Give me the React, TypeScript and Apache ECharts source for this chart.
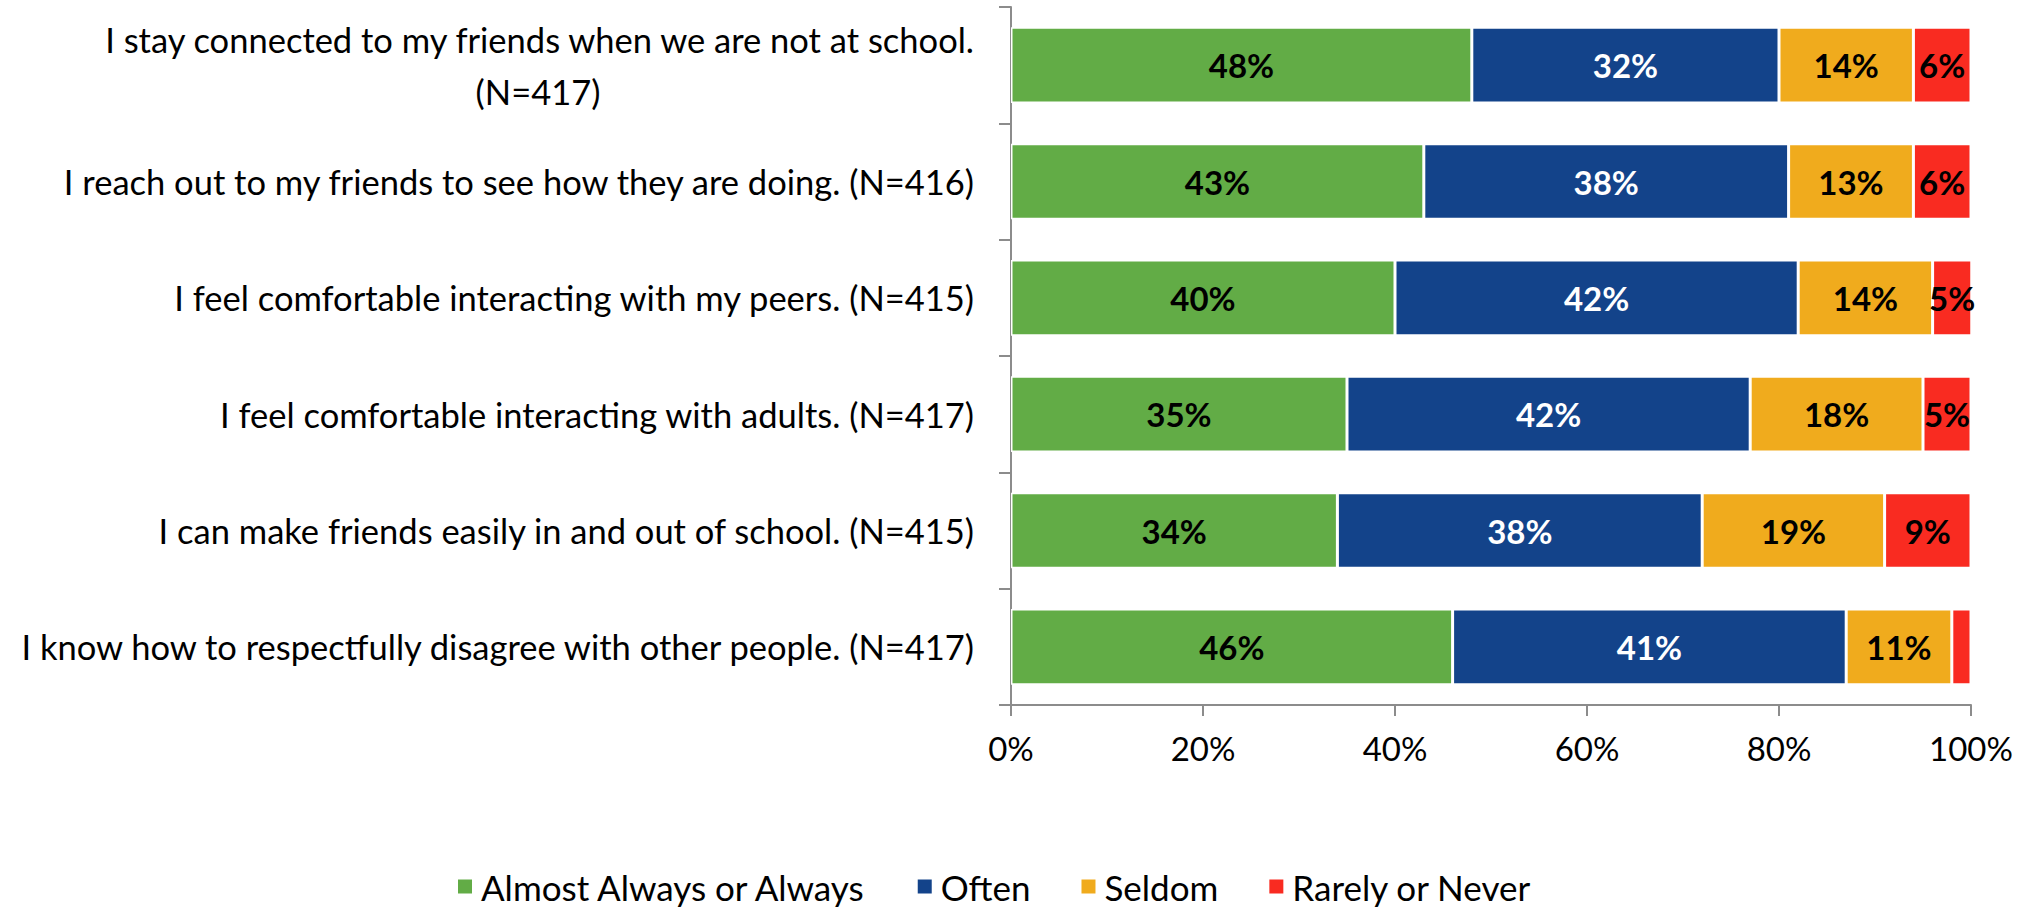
import React, { useEffect, useRef } from "react";
import * as echarts from "echarts";

const categories = [
  "I stay connected to my friends when we are not at school.\n(N=417)",
  "I reach out to my friends to see how they are doing. (N=416)",
  "I feel comfortable interacting with my peers. (N=415)",
  "I feel comfortable interacting with adults. (N=417)",
  "I can make friends easily in and out of school. (N=415)",
  "I know how to respectfully disagree with other people. (N=417)",
];

const seriesNames = ["Almost Always or Always", "Often", "Seldom", "Rarely or Never"];
const almostAlways = [48, 43, 40, 35, 34, 46];
const often = [32, 38, 42, 42, 38, 41];
const seldom = [14, 13, 14, 18, 19, 11];
const rarely = [6, 6, 5, 5, 9, 2];
const xTicks = [0, 20, 40, 60, 80, 100];

const colors = ["#62AC46", "#13438A", "#F0AB1D", "#F92B21"];
const labelColors = ["#000000", "#ffffff", "#000000", "#000000"];

const FONT = "Lato, 'Open Sans', sans-serif";
const FS_CAT = 34.5;
const FS_TICK = 33;
const FS_DATA = 33;
const FS_LEG = 35;

export default function App() {
  const ref = useRef<HTMLDivElement>(null);
  useEffect(() => {
    if (!ref.current) return;
    const chart = echarts.init(ref.current, null, { renderer: "svg" });
    const canvas = document.createElement("canvas");
    const ctx = canvas.getContext("2d")!;
    ctx.font = `${FS_CAT}px ${FONT}`;
    const firstLineWidth = Math.ceil(ctx.measureText(categories[0].split("\n")[0]).width);

    const values = [almostAlways, often, seldom, rarely];
    const series = values.map((arr, i) => ({
      name: seriesNames[i],
      type: "bar",
      stack: "total",
      barWidth: "65%",
      clip: true,
      data: arr,
      itemStyle: { color: colors[i], borderColor: "#ffffff", borderWidth: 1.5 },
      label: {
        show: true,
        position: "inside",
        formatter: (p: any) => (p.value < 3 ? "" : Math.round(p.value) + "%"),
        color: labelColors[i],
        fontWeight: "bold",
        fontSize: FS_DATA,
        fontFamily: FONT,
      },
    }));

    chart.setOption({
      animation: false,
      backgroundColor: "#ffffff",
      grid: { left: 1011, right: 59, top: 7, bottom: 204, containLabel: false },
      legend: {
        data: seriesNames,
        left: 456,
        top: 869,
        padding: 0,
        icon: "rect",
        itemWidth: 16,
        itemHeight: 16,
        itemGap: 49,
        textStyle: {
          fontSize: FS_LEG,
          fontFamily: FONT,
          color: "#000",
          lineHeight: 34,
          padding: [0, 0, 0, 3],
        },
      },
      xAxis: {
        type: "value",
        min: xTicks[0],
        max: xTicks[xTicks.length - 1],
        interval: 20,
        splitLine: { show: false },
        axisLine: { show: true, lineStyle: { color: "#8c8c8c", width: 2 } },
        axisTick: { show: true, length: 11, lineStyle: { color: "#8c8c8c", width: 2 } },
        axisLabel: {
          formatter: "{value}%",
          fontSize: FS_TICK,
          fontFamily: FONT,
          color: "#000",
          margin: 26,
        },
      },
      yAxis: {
        type: "category",
        inverse: true,
        data: categories,
        axisLine: { show: true, lineStyle: { color: "#8c8c8c", width: 2 } },
        axisTick: { show: true, length: 12, lineStyle: { color: "#8c8c8c", width: 2 } },
        axisLabel: {
          margin: 37,
          fontSize: FS_CAT,
          fontFamily: FONT,
          color: "#000",
          align: "right",
          lineHeight: 52,
          formatter: (v: string) => {
            if (v.indexOf("\n") < 0) return v;
            const [l1, l2] = v.split("\n");
            return `{a|${l1}}\n{b|${l2}}`;
          },
          rich: {
            a: { fontSize: FS_CAT, fontFamily: FONT, color: "#000", lineHeight: 52 },
            b: {
              fontSize: FS_CAT,
              fontFamily: FONT,
              color: "#000",
              lineHeight: 52,
              align: "center",
              width: firstLineWidth,
            },
          },
        },
      },
      series,
    });
    return () => chart.dispose();
  }, []);
  return <div ref={ref} style={{ width: 2030, height: 909, position: "absolute", left: 0, top: 0 }} />;
}
